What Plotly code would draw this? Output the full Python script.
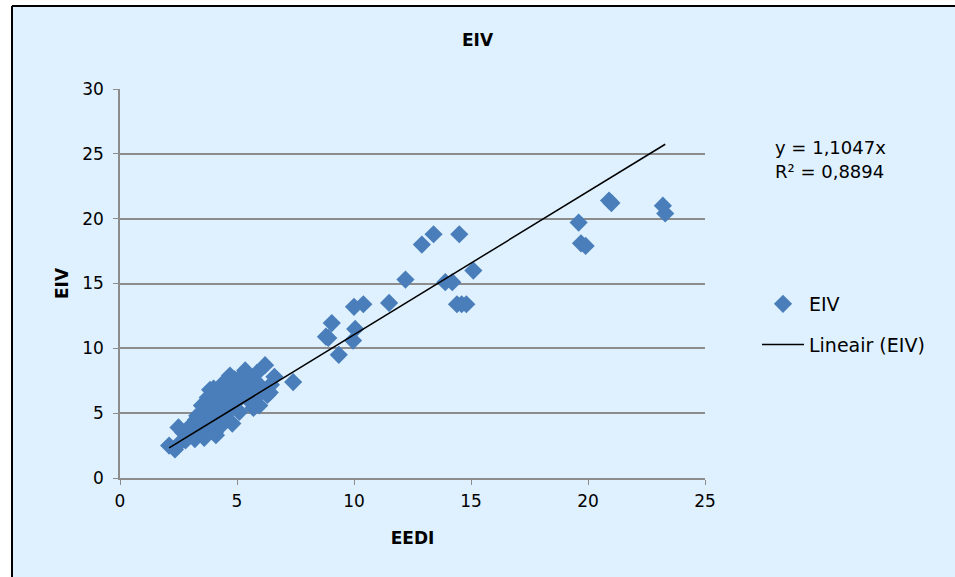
import plotly.graph_objects as go

# EEDI (x) and EIV (y) values
eedi = [2.1, 2.35, 2.5, 2.7, 2.55, 2.8, 3.1, 3.25, 3.4, 3.5, 3.6, 3.75, 3.85, 3.9, 4.05, 4.1,
        4.3, 4.35, 4.5, 4.6, 4.7, 4.8, 4.9, 5.05, 5.1, 5.35, 5.4, 5.55, 5.7, 5.85, 5.95, 6.05,
        6.2, 6.3, 6.45, 6.6,
        3.0, 3.3, 3.6, 3.8, 4.0, 4.2, 4.4, 4.6, 4.8, 5.0, 4.1, 4.3, 4.5, 4.7, 4.9, 5.2, 5.6,
        5.8, 6.0, 3.5, 3.7, 3.9, 4.2, 4.4, 4.0, 4.6, 5.1, 5.3, 2.9, 3.2, 6.4, 5.5, 4.8,
        7.4, 8.8, 8.9, 9.05, 9.35, 10.0, 10.4, 10.05, 9.96, 11.5, 12.2, 12.9, 13.4, 14.5,
        13.9, 14.2, 14.4, 14.6, 14.8, 15.1, 19.6, 19.7, 19.9, 20.9, 21.0, 23.2, 23.3]
eiv = [2.5, 2.2, 3.9, 3.5, 2.7, 2.9, 3.5, 4.5, 3.5, 5.6, 3.1, 6.2, 6.8, 4.9, 3.5, 3.3,
       6.0, 7.2, 5.2, 6.4, 7.9, 4.2, 7.6, 6.0, 5.1, 8.3, 6.4, 7.6, 5.4, 8.1, 5.6, 6.8,
       8.7, 6.4, 7.2, 7.8,
       4.0, 4.8, 5.0, 5.5, 5.8, 6.3, 6.6, 6.9, 7.3, 7.0, 4.6, 4.0, 4.8, 5.6, 5.9, 6.6, 7.0,
       6.2, 7.1, 4.2, 3.8, 4.3, 5.4, 5.0, 6.9, 5.9, 7.7, 7.2, 3.2, 3.0, 6.6, 6.0, 6.6,
       7.4, 10.9, 10.8, 11.95, 9.5, 13.2, 13.4, 11.5, 10.6, 13.5, 15.3, 18.0, 18.8, 18.8,
       15.1, 15.1, 13.4, 13.4, 13.4, 16.0, 19.7, 18.1, 17.9, 21.4, 21.2, 21.0, 20.4]

slope = 1.1047
r2 = 0.8894
x_ticks = [0, 5, 10, 15, 20, 25]
y_ticks = [0, 5, 10, 15, 20, 25, 30]
eq_lines = ["y = 1,1047x", "R² = 0,8894"]

xmin, xmax = min(eedi), max(eedi)
trend_x = [xmin, xmax]
trend_y = [slope * v for v in trend_x]

FONT = "DejaVu Sans"
BG = "#DFF1FE"
W, H = 955, 577
L, R, T, B = 120, 250, 89, 99
PW, PH = W - L - R, H - T - B


def px_x(p):
    return (p - L) / PW


def px_y(p):
    return (H - B - p) / PH


fig = go.Figure()
fig.add_trace(go.Scatter(
    x=eedi, y=eiv, mode="markers", name="EIV", legendgroup="a",
    marker=dict(symbol="diamond", size=14, color="#4A7EBB", line=dict(width=0)),
))
fig.add_trace(go.Scatter(
    x=trend_x, y=trend_y, mode="lines", name="Lineair (EIV)", legendgroup="b",
    line=dict(color="black", width=1.5),
))

frame_left, frame_top = 12, 6
fig.update_layout(
    width=W, height=H,
    margin=dict(l=L, r=R, t=T, b=B),
    paper_bgcolor="white",
    plot_bgcolor="rgba(0,0,0,0)",
    font=dict(family=FONT, size=17, color="black"),
    title=dict(text="<b>EIV</b>", x=0.5, xref="container", y=1 - 40 / H,
               yanchor="middle", font=dict(family=FONT, size=17)),
    showlegend=True,
    legend=dict(x=px_x(757), y=px_y(285), xanchor="left", yanchor="top",
                bgcolor="rgba(0,0,0,0)", tracegroupgap=13, itemwidth=42,
                traceorder="grouped", font=dict(family=FONT, size=19)),
    shapes=[
        dict(type="rect", xref="paper", yref="paper",
             x0=px_x(frame_left), x1=px_x(W + 20), y0=px_y(H + 20), y1=px_y(frame_top),
             fillcolor=BG, line=dict(width=0), layer="below"),
        dict(type="line", xref="paper", yref="paper",
             x0=px_x(frame_left), x1=px_x(frame_left), y0=px_y(H + 20), y1=px_y(frame_top),
             line=dict(color="black", width=2), layer="below"),
        dict(type="line", xref="paper", yref="paper",
             x0=px_x(frame_left), x1=px_x(W + 20), y0=px_y(frame_top), y1=px_y(frame_top),
             line=dict(color="black", width=2), layer="below"),
    ],
    annotations=[
        dict(xref="paper", yref="paper", x=px_x(773), y=px_y(147),
             xanchor="left", yanchor="middle", align="left", showarrow=False,
             text=eq_lines[0], font=dict(family=FONT, size=18)),
        dict(xref="paper", yref="paper", x=px_x(773), y=px_y(171),
             xanchor="left", yanchor="middle", align="left", showarrow=False,
             text=eq_lines[1], font=dict(family=FONT, size=18)),
    ],
)
fig.update_xaxes(
    range=[0, 25], tickvals=x_ticks, showgrid=False, zeroline=False,
    showline=True, linecolor="#8C8C8C", linewidth=1.5,
    ticks="outside", ticklen=5, tickcolor="#8C8C8C", ticklabelstandoff=2,
    title=dict(text="<b>EEDI</b>", standoff=22, font=dict(family=FONT, size=17)),
)
fig.update_yaxes(
    range=[0, 30], tickvals=y_ticks, showgrid=True, gridcolor="#8C8C8C", gridwidth=1.5,
    zeroline=False, showline=True, linecolor="#8C8C8C", linewidth=1.5,
    ticks="outside", ticklen=5, tickcolor="#8C8C8C", ticklabelstandoff=6,
    title=dict(text="<b>EIV</b>", standoff=9, font=dict(family=FONT, size=17)),
)

fig.write_html("out.html", config={"displayModeBar": False},
               post_script="document.body.style.margin='0';"
                           "document.body.style.overflow='hidden';"
                           "document.documentElement.style.overflow='hidden';")
